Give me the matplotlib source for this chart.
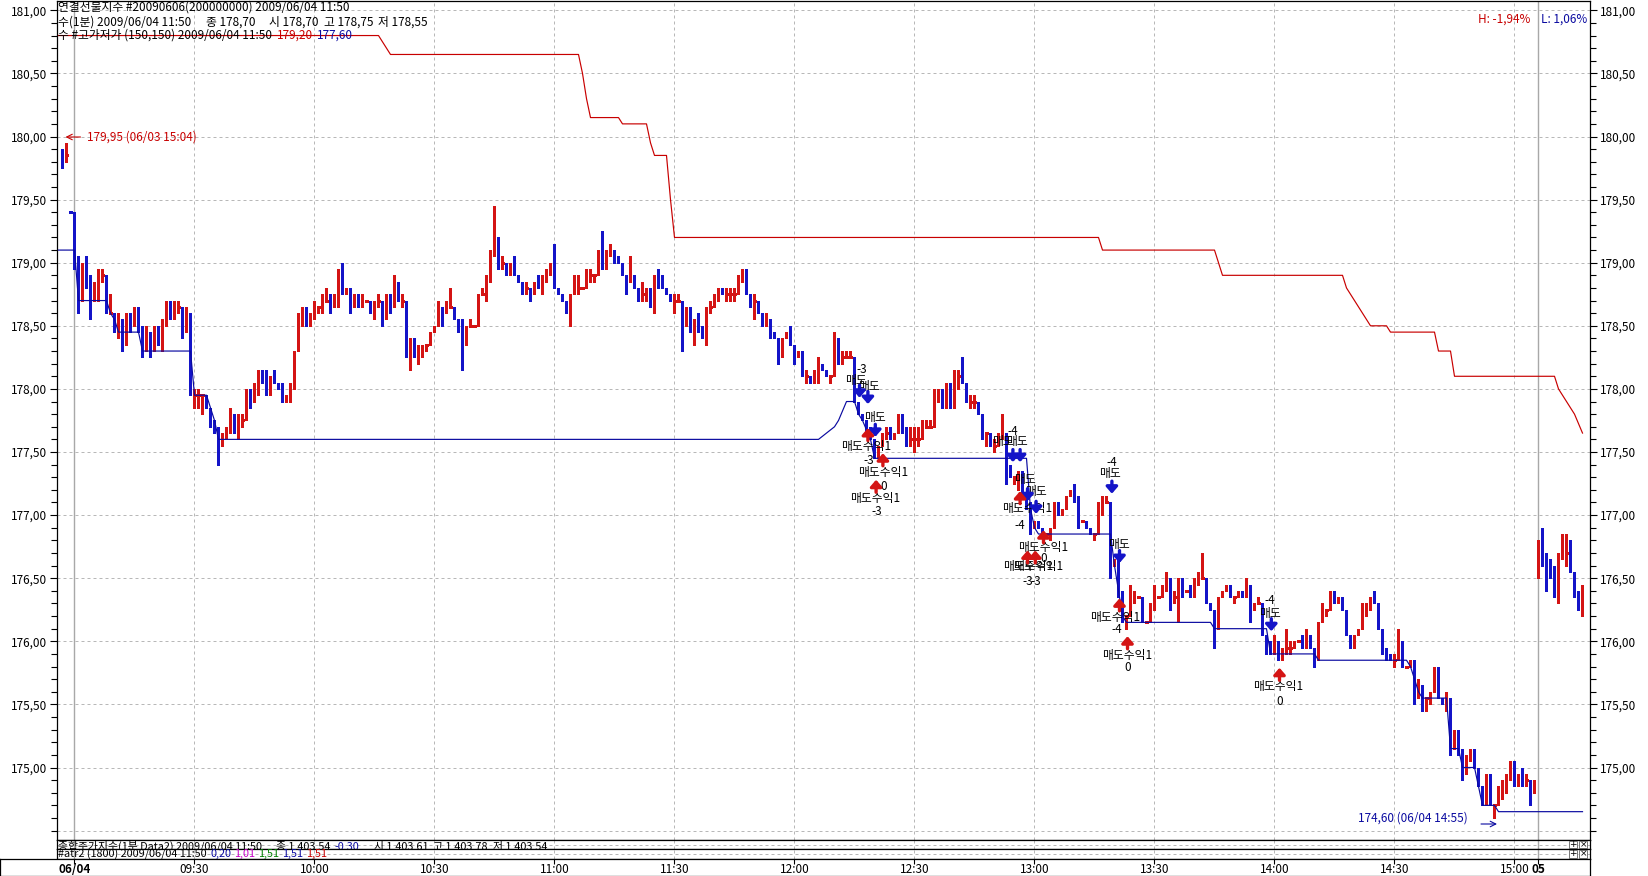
import matplotlib
matplotlib.use("Agg")
import matplotlib.pyplot as plt
from matplotlib.patches import Rectangle
import numpy as np

plt.rcParams['font.family'] = ['Noto Sans CJK KR', 'DejaVu Sans']
plt.rcParams['axes.unicode_minus'] = False

W, H, DPI = 1649, 876, 100

# ---------------- data ----------------
prev_pos = [-3, -2, -1]
prev_open = [179.90, 179.85, 179.40]
prev_close = [179.85, 179.85, 179.40]
prev_high = [179.90, 179.95, 179.40]
prev_low = [179.75, 179.80, 179.40]

day1_first_open = 179.35
day1_close = [
    178.95, 178.70, 178.95, 178.90, 178.70, 178.80, 178.90, 178.90, 178.60, 178.60,
    178.50, 178.55, 178.45, 178.55, 178.50, 178.60, 178.50, 178.35, 178.45, 178.35,
    178.45, 178.40, 178.55, 178.65, 178.60, 178.65, 178.65, 178.50, 178.60, 177.95,
    177.95, 177.95, 177.95, 177.85, 177.75, 177.70, 177.60, 177.65, 177.70, 177.75,
    177.65, 177.75, 177.75, 178.00, 177.95, 178.05, 178.10, 178.05, 178.00, 178.10,
    178.05, 178.00, 177.90, 177.95, 178.05, 178.30, 178.50, 178.60, 178.55, 178.60,
    178.65, 178.65, 178.70, 178.70, 178.65, 178.70, 178.95, 178.75, 178.80, 178.65,
    178.70, 178.65, 178.70, 178.70, 178.60, 178.70, 178.70, 178.60, 178.70, 178.65,
    178.80, 178.70, 178.70, 178.30, 178.40, 178.25, 178.30, 178.35, 178.35, 178.45,
    178.50, 178.65, 178.60, 178.65, 178.65, 178.55, 178.50, 178.45, 178.50, 178.50,
    178.50, 178.75, 178.75, 178.90, 179.05, 179.20, 179.00, 179.00, 178.90, 178.95,
    178.90, 178.85, 178.80, 178.80, 178.75, 178.85, 178.80, 178.85, 178.90, 179.00,
    178.80, 178.75, 178.70, 178.60, 178.75, 178.80, 178.80, 178.80, 178.90, 178.90,
    178.90, 179.05, 179.00, 179.05, 179.10, 179.05, 179.00, 178.90, 178.85, 178.90,
    178.80, 178.75, 178.75, 178.80, 178.65, 178.90, 178.85, 178.80, 178.75, 178.70,
    178.70, 178.70, 178.60, 178.65, 178.45, 178.55, 178.50, 178.40, 178.65, 178.65,
    178.70, 178.80, 178.75, 178.75, 178.75, 178.75, 178.85, 178.90, 178.75, 178.70,
    178.70, 178.60, 178.50, 178.55, 178.45, 178.40, 178.35, 178.40, 178.45, 178.35,
    178.25, 178.30, 178.10, 178.10, 178.05, 178.15, 178.20, 178.15, 178.10, 178.10,
    178.40, 178.25, 178.25, 178.25, 178.25, 177.90, 177.80, 177.75, 177.70, 177.60,
    177.45, 177.55, 177.65, 177.65, 177.60, 177.65, 177.75, 177.70, 177.60, 177.60,
    177.60, 177.60, 177.70, 177.70, 177.70, 177.90, 178.00, 177.85, 178.00, 177.85,
    178.10, 178.10, 178.05, 177.90, 177.90, 177.90, 177.80, 177.65, 177.65, 177.55,
    177.55, 177.60, 177.65, 177.40, 177.30, 177.30, 177.35, 177.15, 177.05, 176.90,
    176.95, 176.90, 176.85, 176.85, 176.90, 177.05, 177.00, 177.05, 177.15, 177.20,
    177.10, 176.95, 176.95, 176.90, 176.85, 176.85, 177.05, 177.10, 177.10, 176.60,
    176.65, 176.40, 176.20, 176.20, 176.30, 176.35, 176.35, 176.15, 176.15, 176.25,
    176.35, 176.35, 176.40, 176.45, 176.35, 176.35, 176.45, 176.40, 176.40, 176.35,
    176.45, 176.50, 176.50, 176.30, 176.25, 176.10, 176.35, 176.40, 176.45, 176.35,
    176.35, 176.40, 176.35, 176.45, 176.25, 176.30, 176.30, 176.05, 176.00, 175.90,
    176.00, 175.90, 175.95, 175.95, 175.95, 176.00, 176.00, 175.95, 176.00, 175.95,
    175.85, 176.15, 176.25, 176.25, 176.35, 176.30, 176.35, 176.25, 176.05, 175.95,
    176.05, 176.10, 176.20, 176.25, 176.35, 176.30, 176.10, 175.95, 175.90, 175.85,
    175.85, 176.00, 175.80, 175.80, 175.85, 175.60, 175.65, 175.55, 175.55, 175.60,
    175.80, 175.55, 175.50, 175.55, 175.15, 175.30, 175.15, 175.00, 175.05, 175.10,
    175.00, 174.85, 174.70, 174.95, 174.70, 174.70, 174.80, 174.85, 174.90, 175.05,
    174.85, 174.95, 174.90, 174.90, 174.80, 174.90,
]
# wick lengths above / below the body, in 0.05 ticks
day1_up_ticks = ("1212011103 0101111010 1101111010 1100000002 1110001120 1010002110 "
                 "1012110100 1110001011 2110001000 0101300101 0010150101 2001001110 "
                 "3000022011 0141100003 0020001100 1100001001 1001111110 1001000001 "
                 "0001001000 1011100000 0001101102 2211120011 1130110000 1130000001 "
                 "0000011000 1100001110 0000310001 2012111101 1140000000 0001001000 "
                 "1003100121 0010110000 0021010000 1200001000 0001000011 1000001110 001100")
day1_dn_ticks = ("0202302100 1232101212 1121111210 2230114111 0110212011 0000110011 "
                 "1110101001 0000011211 0011301110 0020001620 0001101100 0011100100 "
                 "0000201001 1011010020 0111011000 2062021011 0001110001 3000103200 "
                 "1001002001 0110000010 0001000111 2100000000 0200110120 1003012001 "
                 "0000100000 0100010102 0112000000 0000214100 0000030000 1000200020 "
                 "0111100000 1001000000 0000000110 1000021221 0001101210 0000020110 001120")

day2_start = 366
day2_open = [176.65, 176.75, 176.70, 176.65, 176.60, 176.45, 176.65, 176.70, 176.65, 176.55, 176.40, 176.30]
day2_close = [176.75, 176.65, 176.60, 176.60, 176.45, 176.70, 176.70, 176.70, 176.55, 176.35, 176.30, 176.45]
day2_high = [176.80, 176.90, 176.70, 176.65, 176.60, 176.70, 176.85, 176.85, 176.80, 176.55, 176.40, 176.45]
day2_low = [176.50, 176.60, 176.40, 176.50, 176.35, 176.30, 176.65, 176.60, 176.55, 176.35, 176.25, 176.20]

# highest-high / lowest-low channel (150,150)
red_k = [-4, 76, 79, 126, 127, 128, 129, 136, 137, 143, 144, 145, 148, 149, 150, 256, 257, 285, 287, 317,
         318, 320, 322, 324, 328, 329, 340, 341, 344, 345, 370, 371, 373, 375, 377]
red_v = [180.80, 180.80, 180.65, 180.65, 180.50, 180.30, 180.15, 180.15, 180.10, 180.10, 179.95, 179.85,
         179.85, 179.50, 179.20, 179.20, 179.10, 179.10, 178.90, 178.90, 178.80, 178.70, 178.60, 178.50,
         178.50, 178.45, 178.45, 178.30, 178.30, 178.10, 178.10, 178.00, 177.90, 177.80, 177.65]
blue_k = [-4, 0, 1, 8, 9, 10, 11, 16, 17, 29, 30, 33, 34, 35, 36, 186, 188, 190, 191, 193,
          195, 196, 197, 199, 200, 238, 239, 240, 241, 259, 260, 261, 262, 263, 284, 285, 298, 299, 310, 311,
          333, 334, 336, 337, 343, 344, 346, 347, 350, 351, 352, 355, 356, 377]
blue_v = [179.10, 179.10, 178.70, 178.70, 178.60, 178.55, 178.45, 178.45, 178.30, 178.30,
          177.95, 177.95, 177.85, 177.75, 177.60, 177.60, 177.65, 177.70, 177.75, 177.90,
          177.90, 177.80, 177.75, 177.60, 177.45, 177.45, 177.05, 176.90, 176.85, 176.85,
          176.60, 176.40, 176.20, 176.15, 176.15, 176.10, 176.10, 175.90, 175.90, 175.85,
          175.85, 175.80, 175.60, 175.55, 175.55, 175.15, 175.15, 175.00, 175.00, 174.85,
          174.70, 174.70, 174.65, 174.65]

# trade signals
signal_texts = [
    ("-3", 196.9, 178.155), ("매도", 195.3, 178.07), ("매도", 198.5, 178.02), ("매도", 200.1, 177.77),
    ("매도수익1", 197.9, 177.54), ("-3", 198.5, 177.43), ("매도수익1", 202.1, 177.34), ("0", 202.3, 177.23),
    ("매도수익1", 200.2, 177.13), ("-3", 200.6, 177.03),
    ("-4", 234.6, 177.66), ("매도", 232.2, 177.58), ("매도", 235.7, 177.58), ("매도", 237.7, 177.28),
    ("매도", 240.4, 177.19), ("매도수익1", 238.1, 177.05), ("-4", 236.4, 176.92), ("매도수익1", 242.1, 176.74),
    ("0", 242.25, 176.66), ("매도수익1", 238.5, 176.59), ("매도수익1", 241.0, 176.59),
    ("-3", 238.25, 176.47), ("-3", 240.4, 176.47),
    ("-4", 259.35, 177.42), ("매도", 258.9, 177.33), ("매도", 261.0, 176.77), ("매도수익1", 260.25, 176.19),
    ("-4", 260.6, 176.09), ("매도수익1", 263.1, 175.89), ("0", 263.25, 175.79),
    ("-4", 298.9, 176.32), ("매도", 298.9, 176.22), ("매도수익1", 301.0, 175.64), ("0", 301.25, 175.52),
]
sell_arrows = [(196.25, 177.93), (198.35, 177.88), (200.2, 177.62), (234.6, 177.42), (236.4, 177.42),
               (238.25, 177.11), (240.4, 177.01), (259.35, 177.17), (261.25, 176.62), (299.2, 176.08)]
cover_arrows = [(198.35, 177.69), (202.1, 177.49), (200.4, 177.28), (236.4, 177.19), (242.25, 176.88),
                (238.25, 176.72), (240.2, 176.72), (261.25, 176.34), (263.25, 176.04), (301.25, 175.79)]

tick_pos = [0, 30, 60, 90, 120, 150, 180, 210, 240, 270, 300, 330, 360, 366]
tick_labels = ["06/04", "09:30", "10:00", "10:30", "11:00", "11:30", "12:00", "12:30",
               "13:00", "13:30", "14:00", "14:30", "15:00", "05"]
day_breaks = [0, 366]
y_major = [175.0, 175.5, 176.0, 176.5, 177.0, 177.5, 178.0, 178.5, 179.0, 179.5, 180.0, 180.5, 181.0]

# ---------------- build OHLC ----------------
up = np.array([int(ch) for ch in day1_up_ticks.replace(" ", "")])
dn = np.array([int(ch) for ch in day1_dn_ticks.replace(" ", "")])
c1 = np.array(day1_close)
o1 = np.concatenate([[day1_first_open], c1[:-1]])
h1 = np.maximum(o1, c1) + 0.05 * up
l1 = np.minimum(o1, c1) - 0.05 * dn
pos1 = np.arange(len(c1))

pos = np.concatenate([prev_pos, pos1, day2_start + np.arange(len(day2_close))]).astype(float)
O = np.concatenate([prev_open, o1, day2_open])
C = np.concatenate([prev_close, c1, day2_close])
Hh = np.concatenate([prev_high, h1, day2_high])
L = np.concatenate([prev_low, l1, day2_low])

RED = '#d41414'
BLUE = '#1414c8'
LRED = '#c80000'
LBLUE = '#0a0aa0'
GRID = '#b8b8b8'

# ---------------- layout (pixel based) ----------------
X_LEFT, X_RIGHT = 57.0, 1590.0
K0_PX, DK_PX = 74.5, 4.0
Y_TOP, Y_BOT = 1.0, 840.0
P180_PX, PX_PER_UNIT = 136.5, 126.2

def kx(px):
    return (px - K0_PX) / DK_PX

def py(px):
    return 180.0 - (px - P180_PX) / PX_PER_UNIT

def fx(px):
    return px / W

def fy(px):
    return 1 - px / H

fig = plt.figure(figsize=(W / DPI, H / DPI), dpi=DPI)
fig.patch.set_facecolor('white')

ax = fig.add_axes([fx(X_LEFT), fy(Y_BOT), (X_RIGHT - X_LEFT) / W, (Y_BOT - Y_TOP) / H])
xlim = (kx(X_LEFT), kx(X_RIGHT))
ax.set_xlim(*xlim)
ax.set_ylim(py(Y_BOT), py(Y_TOP))
for s in ax.spines.values():
    s.set_linewidth(0.9)
    s.set_color('black')

# grid
for y in np.arange(174.5, 181.01, 0.5):
    ax.axhline(y, color=GRID, lw=0.72, ls=(0, (3, 3)), zorder=0)
for k in tick_pos[1:-1]:
    ax.axvline(k, color=GRID, lw=0.72, ls=(0, (3, 3)), zorder=0)
for k in day_breaks:
    ax.axvline(k, color='#a8a8a8', lw=1.0, zorder=0.5)

# candles
col = np.where(C > O + 1e-9, RED, np.where(C < O - 1e-9, BLUE, RED))
col[2] = BLUE  # previous-day closing tick
ax.vlines(pos, L, Hh, colors=col, lw=0.8, zorder=2, antialiased=False)
upm = C > O + 1e-9
dnm = C < O - 1e-9
eqm = ~(upm | dnm)
ax.bar(pos[upm], (C - O)[upm], bottom=O[upm], width=0.75, color=RED, linewidth=0, zorder=3, antialiased=False)
ax.bar(pos[dnm], (C - O)[dnm], bottom=O[dnm], width=0.75, color=BLUE, linewidth=0, zorder=3, antialiased=False)
ax.hlines(C[eqm], pos[eqm] - 0.375, pos[eqm] + 0.375, colors=col[eqm], lw=0.9, zorder=3, antialiased=False)

# channel lines
ax.plot(red_k, red_v, color=LRED, lw=0.85, zorder=4)
ax.plot(blue_k, blue_v, color=LBLUE, lw=0.85, zorder=4)

# ticks
ax.set_xticks([])
ax.set_yticks(y_major)
ax.set_yticks(np.arange(174.5, 181.05, 0.1), minor=True)
ax.set_yticklabels([f"{v:.2f}".replace('.', ',') for v in y_major])
ax.tick_params(axis='y', which='both', left=True, right=True, labelleft=True, labelright=True,
               direction='out', width=0.8, colors='black', labelsize=8.5)
ax.tick_params(axis='y', which='major', length=5, pad=2)
ax.tick_params(axis='y', which='minor', length=4)

# signals
for s, k, p in signal_texts:
    ax.text(k, p, s, ha='center', va='center', fontsize=8.5, color='black', zorder=6)
ARW = '-|>,head_length=0.32,head_width=0.28'
for k, p in sell_arrows:
    ax.annotate('', xy=(k, p), xytext=(0, 9), textcoords='offset points',
                arrowprops=dict(arrowstyle=ARW, color=BLUE, lw=2.4, shrinkA=0, shrinkB=0,
                                mutation_scale=12), zorder=7)
for k, p in cover_arrows:
    ax.annotate('', xy=(k, p), xytext=(0, -9), textcoords='offset points',
                arrowprops=dict(arrowstyle=ARW, color=RED, lw=2.4, shrinkA=0, shrinkB=0,
                                mutation_scale=12), zorder=7)

# extreme labels
ax.text(kx(86.7), py(136.7), "179,95 (06/03 15:04)", color=LRED, fontsize=8.5, ha='left', va='center', zorder=6)
ax.annotate('', xy=(kx(65.5), py(137)), xytext=(kx(80.5), py(137)),
            arrowprops=dict(arrowstyle='->', color=LRED, lw=0.8, shrinkA=0, shrinkB=0))
ax.text(kx(1468), py(818), "174,60 (06/04 14:55)", color=LBLUE, fontsize=8.5, ha='right', va='center', zorder=6)
ax.annotate('', xy=(kx(1497), py(824)), xytext=(kx(1481), py(824)),
            arrowprops=dict(arrowstyle='->', color=LBLUE, lw=0.8, shrinkA=0, shrinkB=0))

renderer = fig.canvas.get_renderer()

def multi_text(target, x_px, y_px, parts, size=8.5, clip=False):
    x = x_px
    for s, c, gap in parts:
        x += gap
        t = target.text(fx(x), fy(y_px), s, color=c, fontsize=size, ha='left', va='center',
                        transform=fig.transFigure, clip_on=clip, zorder=8)
        bb = t.get_window_extent(renderer=renderer)
        x = bb.x1

# header
multi_text(ax, 58.5, 7, [("연결선물지수 #20090606(200000000) 2009/06/04 11:50", 'black', 0)])
multi_text(ax, 58.5, 21.7, [("수(1분) 2009/06/04 11:50", 'black', 0), ("종 178,70", 'black', 14),
                            ("시 178,70", 'black', 14), ("고 178,75", 'black', 5), ("저 178,55", 'black', 5)])
multi_text(ax, 58.5, 35.5, [("수 #고가저가 (150,150) 2009/06/04 11:50", 'black', 0),
                            ("179,20", LRED, 4), ("177,60", LBLUE, 4)])
fig.text(fx(1530), fy(19), "H: -1,94%", color=LRED, fontsize=8.5, ha='right', va='center')
fig.text(fx(1587), fy(19), "L: 1,06%", color=LBLUE, fontsize=8.5, ha='right', va='center')

# ---------------- sub strips ----------------
strips = [(840.0, 849.0), (849.0, 859.0)]
strip_axes = []
for (t, b) in strips:
    sa = fig.add_axes([fx(X_LEFT), fy(b), (X_RIGHT - X_LEFT) / W, (b - t) / H])
    sa.set_xlim(*xlim)
    sa.set_ylim(0, 1)
    sa.set_xticks([])
    sa.set_yticks([])
    for s in sa.spines.values():
        s.set_linewidth(0.9)
        s.set_color('black')
    sa.axhline(0.5, color=GRID, lw=0.72, ls=(0, (3, 3)), zorder=0)
    for k in tick_pos[1:-1]:
        sa.axvline(k, color=GRID, lw=0.72, ls=(0, (3, 3)), zorder=0)
    for k in day_breaks:
        sa.axvline(k, color='#a8a8a8', lw=1.0, zorder=0.5)
    strip_axes.append(sa)
    for bx, sym in ((1569, '+'), (1579.5, '×')):
        sa.add_patch(Rectangle((fx(bx), fy(b - 1)), 8 / W, (b - t - 2) / H, transform=fig.transFigure,
                               facecolor='white', edgecolor='#606060', lw=0.6, zorder=9, clip_on=False))
        sa.text(fx(bx + 4), fy((t + b) / 2), sym, transform=fig.transFigure, fontsize=6.5,
                ha='center', va='center', zorder=10, clip_on=False, family='DejaVu Sans')

multi_text(strip_axes[0], 58.5, 846.5, [("종합주가지수(1분 Data2) 2009/06/04 11:50", 'black', 0),
                                        ("종 1,403,54", 'black', 14), ("-0,30", LBLUE, 4),
                                        ("시 1,403,61", 'black', 14), ("고 1,403,78", 'black', 5),
                                        ("저 1,403,54", 'black', 5)], size=7.8, clip=True)
multi_text(strip_axes[1], 58.5, 854.0, [("#atr2 (1800) 2009/06/04 11:50", 'black', 0),
                                        ("0,20", LBLUE, 3), ("1,01", '#c800c8', 3), ("1,51", '#008000', 3),
                                        ("1,51", LBLUE, 3), ("1,51", LRED, 3)], size=7.8, clip=True)

# ---------------- time axis ----------------
axx = fig.add_axes([0, 0, X_RIGHT / W, (H - 859.0) / H])
axx.set_xlim(kx(0), kx(X_RIGHT))
axx.set_ylim(0, 1)
axx.set_xticks([])
axx.set_yticks([])
for s in axx.spines.values():
    s.set_linewidth(0.9)
    s.set_color('black')
axx.vlines(tick_pos, 0.72, 1.0, colors='black', lw=0.8)
for k, lab in zip(tick_pos, tick_labels):
    bold = lab in ("06/04", "05")
    axx.text(k, 0.36, lab, ha='center', va='center', fontsize=8.5,
             fontweight='bold' if bold else 'normal')

fig.savefig("out.png", dpi=DPI, facecolor='white')
